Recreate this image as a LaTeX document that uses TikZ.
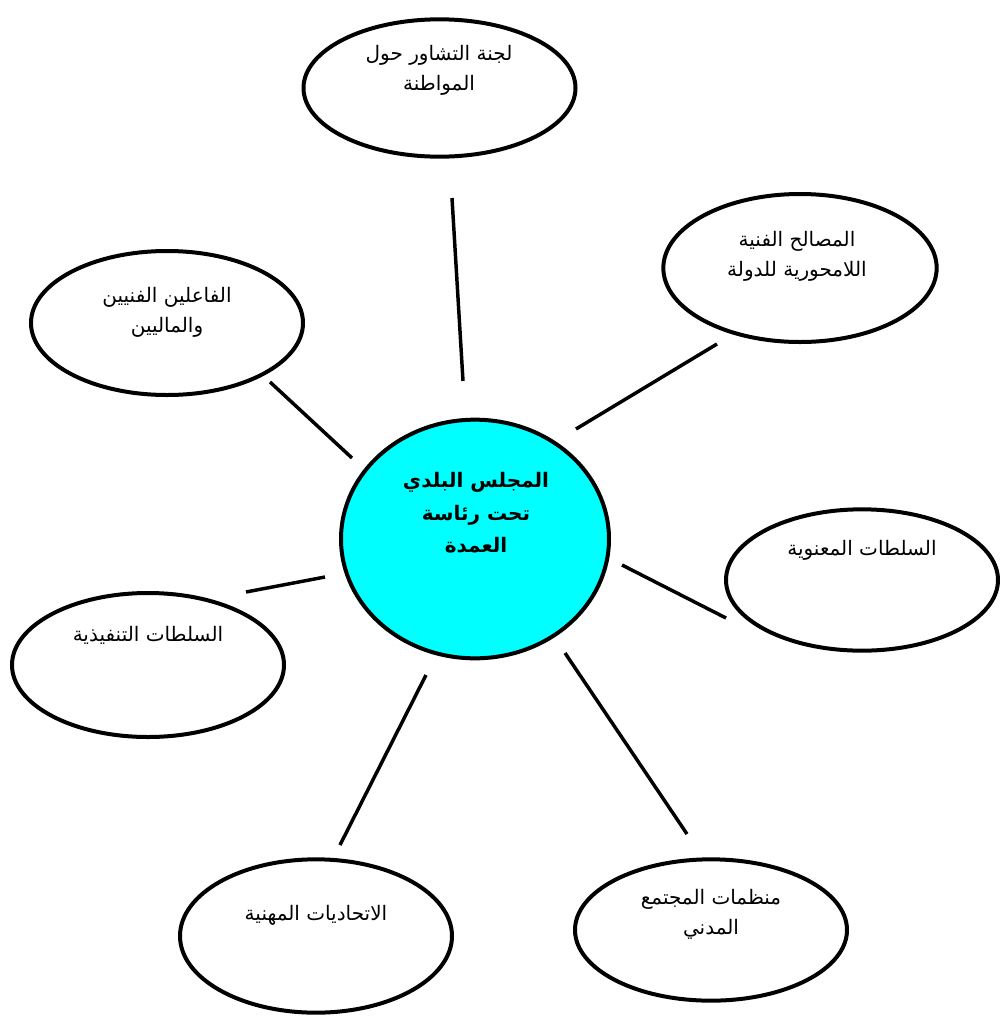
\documentclass[tikz,border=0pt]{standalone}
\usepackage{fontspec}
\newfontfamily\arabicfont[Script=Arabic]{DejaVu Sans}
\TeXXeTstate=1
\usetikzlibrary{shapes.geometric}
\definecolor{hubcyan}{HTML}{00FFFF}
\newcommand{\ar}[1]{\beginR #1\endR}
\begin{document}
\begin{tikzpicture}[x=0.75pt,y=-0.75pt,
  bubble/.style={ellipse,draw=black,line width=3pt,fill=white,inner sep=0pt},
  hub/.style={bubble,fill=hubcyan},
  caption/.style={font=\arabicfont\fontsize{15}{22.5}\selectfont,align=center,inner sep=0pt},
  link/.style={line width=2.6pt}]
\useasboundingbox (0,0) rectangle (1000,1018);

% outer bubbles
\node[bubble,minimum width=204pt,minimum height=103pt] (council) at (439.5,88) {};
\node[bubble,minimum width=205pt,minimum height=111pt] (state) at (800,268) {};
\node[bubble,minimum width=204pt,minimum height=108pt] (actors) at (167,323) {};
\node[bubble,minimum width=204pt,minimum height=106pt] (moral) at (862,580) {};
\node[bubble,minimum width=204pt,minimum height=108pt] (exec) at (148,665) {};
\node[bubble,minimum width=204pt,minimum height=115pt] (unions) at (316,936) {};
\node[bubble,minimum width=204pt,minimum height=106pt] (civil) at (711,930) {};

% central bubble
\node[hub,minimum width=201pt,minimum height=179pt] (mayor) at (475,539) {};

% captions
\node[caption] (councilT) at (439,70) {\ar{لجنة التشاور حول}\\\ar{المواطنة}};
\node[caption] (stateT) at (797,256) {\ar{المصالح الفنية}\\\ar{اللامحورية للدولة}};
\node[caption] (actorsT) at (167,312) {\ar{الفاعلين الفنيين}\\\ar{والماليين}};
\node[caption] (moralT) at (862,550) {\ar{السلطات المعنوية}};
\node[caption] (execT) at (148,635) {\ar{السلطات التنفيذية}};
\node[caption] (unionsT) at (316,915) {\ar{الاتحاديات المهنية}};
\node[caption] (civilT) at (711,914) {\ar{منظمات المجتمع}\\\ar{المدني}};
\node[caption,font=\arabicfont\bfseries\fontsize{15}{24.5}\selectfont] (mayorT) at (476,513)
  {\ar{المجلس البلدي}\\\ar{تحت رئاسة}\\\ar{العمدة}};

% connector end points
\coordinate (c1a) at (452,198);  \coordinate (c1b) at (463,381);
\coordinate (c2a) at (717,344);  \coordinate (c2b) at (576,429);
\coordinate (c3a) at (270,382);  \coordinate (c3b) at (352,458);
\coordinate (c4a) at (726,618);  \coordinate (c4b) at (622,565);
\coordinate (c5a) at (246,592);  \coordinate (c5b) at (325,577);
\coordinate (c6a) at (340,845);  \coordinate (c6b) at (426,675);
\coordinate (c7a) at (687,834);  \coordinate (c7b) at (565,653);

% connectors
\draw[link] (c1a) -- (c1b);
\draw[link] (c2a) -- (c2b);
\draw[link] (c3a) -- (c3b);
\draw[link] (c4a) -- (c4b);
\draw[link] (c5a) -- (c5b);
\draw[link] (c6a) -- (c6b);
\draw[link] (c7a) -- (c7b);
\end{tikzpicture}
\end{document}
